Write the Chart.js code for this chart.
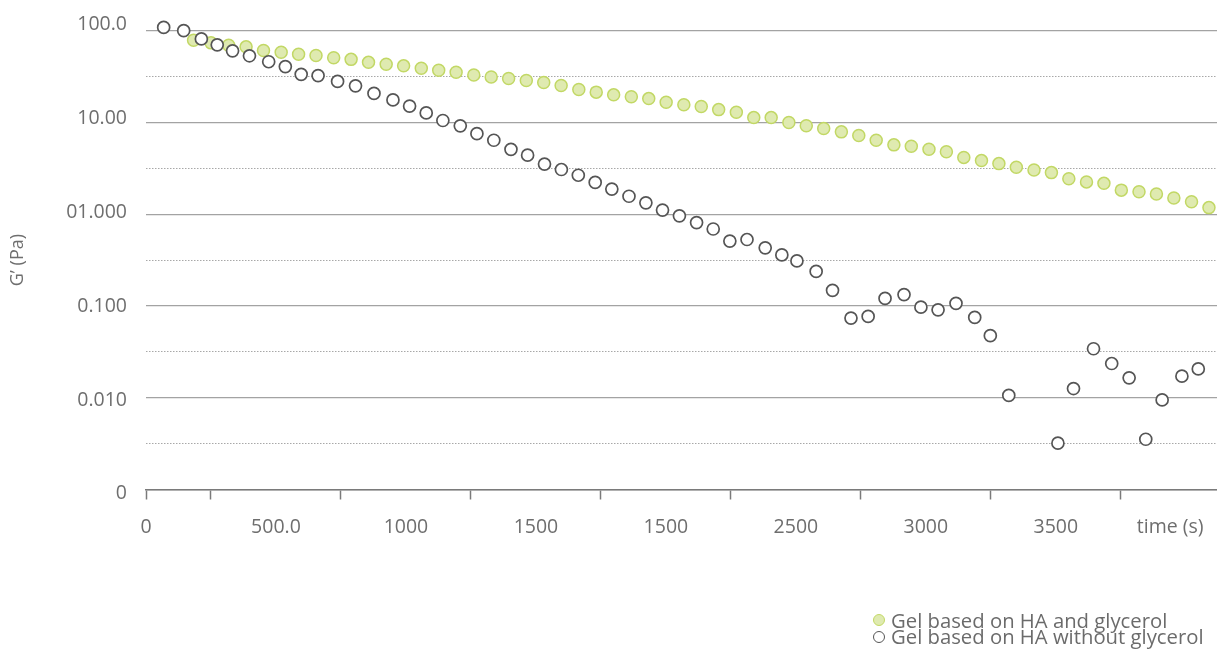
<!DOCTYPE html>
<html>
<head>
<meta charset="utf-8">
<script src="https://cdn.jsdelivr.net/npm/chart.js@4.4.0/dist/chart.umd.min.js"></script>
<style>
  html, body { margin: 0; padding: 0; background: #fff; }
  #wrap { position: relative; width: 1217px; height: 657px; }
  #legend {
    position: absolute; left: 873px; top: 612px;
    font-family: 'Open Sans', Lato, sans-serif; font-size: 20.3px; line-height: 17px; color: #6b6b6b;
  }
  #legend .row { display: flex; align-items: center; white-space: nowrap; height: 16.5px; }
  #legend .mk { width: 10px; height: 10px; border-radius: 50%; margin-right: 6px; box-sizing: content-box; }
</style>
</head>
<body>
<div id="wrap">
  <canvas id="rheo" width="1217" height="657"></canvas>
  <div id="legend"></div>
</div>
<script>
// G' vs time, log scale, two gels
const TEXT = '#6e6e6e';
const AXIS = '#7a7a7a';
const GRID = '#a3a3a3';
const DOTTED = '#a8a8a8';

// gel with glycerol (green filled)
const glyTime = [183, 250, 318, 385, 452, 520, 587, 654, 722, 789,
  856, 924, 991, 1059, 1126, 1193, 1261, 1328, 1395, 1463,
  1530, 1597, 1665, 1732, 1799, 1867, 1934, 2001, 2069, 2136,
  2203, 2271, 2338, 2405, 2473, 2540, 2607, 2675, 2742, 2809,
  2877, 2944, 3012, 3079, 3146, 3214, 3281, 3348, 3416, 3483,
  3550, 3618, 3685, 3752, 3820, 3887, 3954, 4022, 4089];
const glyG = [78.6, 73.7, 69.4, 66.7, 60.9, 58.3, 55.5, 53.7, 50.8, 48.7,
  45.2, 43.0, 41.4, 38.9, 37.0, 35.2, 32.9, 31.3, 30.1, 28.7,
  27.3, 25.3, 22.9, 21.4, 20.0, 19.1, 18.2, 16.6, 15.6, 14.9,
  13.8, 12.9, 11.3, 11.3, 10.0, 9.2, 8.6, 7.9, 7.2, 6.4,
  5.7, 5.5, 5.1, 4.8, 4.16, 3.84, 3.56, 3.25, 3.03, 2.84,
  2.43, 2.25, 2.17, 1.83, 1.76, 1.66, 1.50, 1.37, 1.18];

// gel without glycerol (open circles)
const plainTime = [68, 145, 213, 274, 333, 398, 472, 536, 597, 662,
  737, 806, 877, 950, 1014, 1078, 1142, 1209, 1273, 1338,
  1404, 1468, 1533, 1598, 1663, 1728, 1792, 1858, 1923, 1987,
  2052, 2118, 2182, 2246, 2312, 2382, 2446, 2504, 2578, 2641,
  2712, 2778, 2843, 2916, 2981, 3047, 3116, 3188, 3248, 3319,
  3508, 3568, 3645, 3715, 3782, 3846, 3909, 3985, 4048];
const plainG = [108.6, 100, 81.4, 70.1, 60.4, 53.3, 45.9, 40.6, 33.5, 32.4,
  28.0, 25.1, 20.7, 17.6, 15.1, 12.7, 10.5, 9.2, 7.55, 6.4,
  5.1, 4.4, 3.52, 3.07, 2.66, 2.22, 1.88, 1.57, 1.33, 1.11,
  0.96, 0.81, 0.69, 0.51, 0.53, 0.43, 0.36, 0.31, 0.238, 0.148,
  0.0738, 0.0769, 0.121, 0.133, 0.097, 0.0908, 0.107, 0.075, 0.0475, 0.0106,
  0.0032, 0.0126, 0.0342, 0.0236, 0.0165, 0.00353, 0.00946, 0.0172, 0.0206];

// axes
const xMax = 4120;
const xMarkAt = [0, 250, 750, 1250, 1750, 2250, 2750, 3250, 3750];
const xLabelAt = [0, 500, 1000, 1500, 2000, 2500, 3000, 3500, 3940];
const xLabels = ['0', '500.0', '1000', '1500', '1500', '2500', '3000', '3500', 'time (s)'];
const yDecades = [0.001, 0.01, 0.1, 1, 10, 100];
const yLabels = ['0', '0.010', '0.100', '01.000', '10.00', '100.0'];
const yHalf = [0.00316, 0.0316, 0.316, 3.16, 31.6];

const seriesNames = ['Gel based on HA and glycerol', 'Gel based on HA without glycerol'];

const toPts = (t, g) => t.map((v, i) => ({ x: v, y: g[i] }));
const xTicks = Array.from(new Set(xMarkAt.concat(xLabelAt))).sort((a, b) => a - b);
const FONT = { family: 'Open Sans', size: 19.5 };

const chart = new Chart(document.getElementById('rheo'), {
  type: 'scatter',
  data: {
    datasets: [
      {
        label: seriesNames[0],
        data: toPts(glyTime, glyG),
        order: 1,
        pointRadius: 6,
        pointBackgroundColor: '#dfeab0',
        pointBorderColor: '#c2d865',
        pointBorderWidth: 1.5,
        clip: false,
      },
      {
        label: seriesNames[1],
        data: toPts(plainTime, plainG),
        order: 0,
        pointRadius: 6,
        pointBackgroundColor: '#ffffff',
        pointBorderColor: '#555555',
        pointBorderWidth: 1.7,
        clip: false,
      },
    ],
  },
  options: {
    responsive: false,
    animation: false,
    layout: { autoPadding: false, padding: { top: 26, right: 0, bottom: 0, left: 0 } },
    plugins: { legend: { display: false }, tooltip: { enabled: false } },
    scales: {
      x: {
        type: 'linear', min: 0, max: xMax,
        afterBuildTicks: (s) => { s.ticks = xTicks.map((v) => ({ value: v })); },
        afterFit: (s) => { s.height = 167.5; s.paddingLeft = 0; s.paddingRight = 0; },
        border: { color: AXIS, width: 1.5 },
        grid: {
          drawOnChartArea: false, tickLength: 10, tickWidth: 1.5,
          tickColor: (c) => (xMarkAt.includes(c.tick.value) ? AXIS : 'rgba(0,0,0,0)'),
        },
        ticks: {
          autoSkip: false, maxRotation: 0, padding: 16, color: TEXT, font: FONT,
          callback: (v) => { const i = xLabelAt.indexOf(v); return i >= 0 ? xLabels[i] : ''; },
        },
      },
      // value axis: solid decade grid + axis title
      y: {
        type: 'logarithmic', min: 0.001, max: 100, position: 'left', weight: 2,
        afterBuildTicks: (s) => { s.ticks = yDecades.map((v) => ({ value: v })); },
        afterFit: (s) => { s.width = 30; },
        border: { display: false },
        grid: { color: GRID, lineWidth: 1.3, drawTicks: false },
        ticks: { display: false },
        title: { display: true, text: 'G’ (Pa)', color: TEXT, font: { family: 'Open Sans', size: 18 }, padding: { top: 7, bottom: 0 } },
      },
      // dotted half-decade grid
      y2: {
        type: 'logarithmic', min: 0.001, max: 100, position: 'left', weight: 1,
        afterBuildTicks: (s) => { s.ticks = yHalf.map((v) => ({ value: v })); },
        afterFit: (s) => { s.width = 0; },
        border: { display: false, dash: [1.5, 1.5] },
        grid: { color: DOTTED, lineWidth: 1, drawTicks: false },
        ticks: { display: false },
      },
      // tick labels, spaced a little wider than the grid as in the original
      yLab: {
        type: 'logarithmic', min: 0.001115, max: 86.44, position: 'left', weight: 0,
        afterBuildTicks: (s) => { s.ticks = yDecades.map((v) => ({ value: v })); },
        afterFit: (s) => { s.width = 116; },
        border: { display: false },
        grid: { display: false, drawTicks: false },
        ticks: {
          autoSkip: false, padding: 19, color: TEXT, font: FONT,
          callback: (v) => yLabels[yDecades.indexOf(v)],
        },
      },
    },
  },
});

// legend below the plot, one series per row
const legend = document.getElementById('legend');
chart.data.datasets.forEach((ds) => {
  const row = document.createElement('div');
  row.className = 'row';
  const mk = document.createElement('span');
  mk.className = 'mk';
  mk.style.background = ds.pointBackgroundColor;
  mk.style.border = '1.3px solid ' + ds.pointBorderColor;
  const txt = document.createElement('span');
  txt.textContent = ds.label;
  row.appendChild(mk);
  row.appendChild(txt);
  legend.appendChild(row);
});
</script>
</body>
</html>
